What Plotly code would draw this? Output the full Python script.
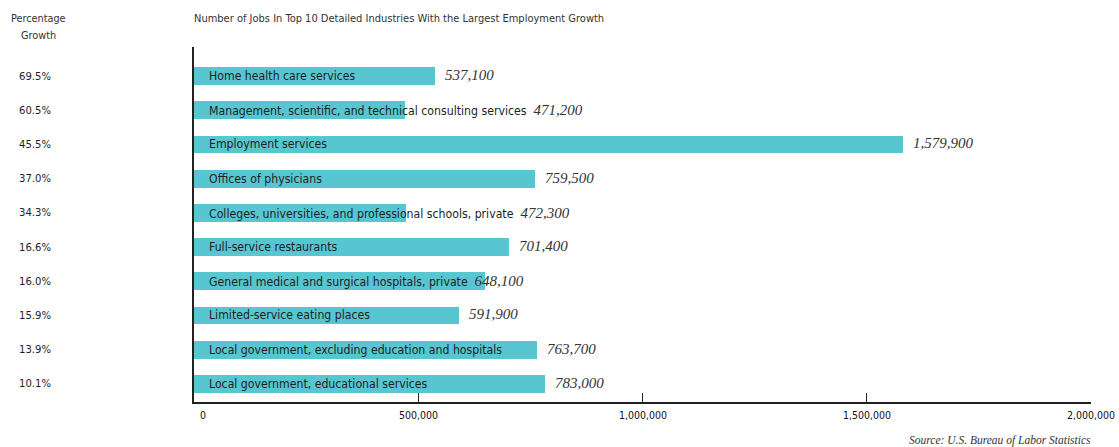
import plotly.graph_objects as go

categories = [
    "Home health care services",
    "Management, scientific, and technical consulting services",
    "Employment services",
    "Offices of physicians",
    "Colleges, universities, and professional schools, private",
    "Full-service restaurants",
    "General medical and surgical hospitals, private",
    "Limited-service eating places",
    "Local government, excluding education and hospitals",
    "Local government, educational services",
]
jobs = [537100, 471200, 1579900, 759500, 472300, 701400, 648100, 591900, 763700, 783000]
growth_labels = ["69.5%", "60.5%", "45.5%", "37.0%", "34.3%", "16.6%", "16.0%", "15.9%", "13.9%", "10.1%"]
tick_values = [0, 500000, 1000000, 1500000, 2000000]
tick_labels = ["0", "500,000", "1,000,000", "1,500,000", "2,000,000"]

W, H = 1119, 447
ML, MR, MT, MB = 194, 28, 47, 45
plot_w = W - ML - MR
x_max = 2000000
px_per_unit = plot_w / x_max

SANS = "DejaVu Sans Condensed, Liberation Sans Narrow, sans-serif"
SERIF = "Liberation Serif, Times New Roman, serif"
BAR = "#58C6D1"
TXT = "#1e1e1e"
CAT_SIZE = 12.2

ypos = list(range(len(categories)))

fig = go.Figure()
fig.add_trace(go.Bar(
    x=jobs, y=ypos, orientation="h",
    marker=dict(color=BAR, line=dict(width=0)),
    width=0.52, hoverinfo="skip",
))

annotations = []
char_px = 5.9
for i, (cat, v, g) in enumerate(zip(categories, jobs, growth_labels)):
    text_end_px = 14 + len(cat) * char_px
    bar_end_px = v * px_per_unit
    val_html = (f"<span style='font-family:{SERIF};font-size:15px;color:#333'>"
                f"<i>{v:,}</i></span>")
    if text_end_px > bar_end_px:
        annotations.append(dict(
            x=0, y=i, xref="x", yref="y", xanchor="left", yanchor="middle",
            xshift=13, showarrow=False, align="left",
            text=cat + "\u00a0\u00a0" + val_html,
            font=dict(family=SANS, size=CAT_SIZE, color=TXT),
        ))
    else:
        annotations.append(dict(
            x=0, y=i, xref="x", yref="y", xanchor="left", yanchor="middle",
            xshift=13, showarrow=False, text=cat,
            font=dict(family=SANS, size=CAT_SIZE, color=TXT),
        ))
        annotations.append(dict(
            x=v, y=i, xref="x", yref="y", xanchor="left", yanchor="middle",
            xshift=8, yshift=1, showarrow=False, text=f"<i>{v:,}</i>",
            font=dict(family=SERIF, size=15, color="#333"),
        ))
    annotations.append(dict(
        x=0, y=i, xref="paper", yref="y", xanchor="left", yanchor="middle",
        xshift=-(ML - 17), showarrow=False, text=g,
        font=dict(family=SANS, size=11.2, color=TXT),
    ))

# x-axis tick labels
for j, (tv, tl) in enumerate(zip(tick_values, tick_labels)):
    annotations.append(dict(
        x=tv, y=0, xref="x", yref="paper", xanchor="center", yanchor="middle",
        xshift=9 if j == 0 else 0, yshift=-13, showarrow=False, text=tl,
        font=dict(family=SANS, size=10.5, color="#111"),
    ))

for line, dy in (("Percentage", 18), ("Growth", 35)):
    annotations.append(dict(
        x=0, y=1, xref="paper", yref="paper", xanchor="center", yanchor="middle",
        xshift=-(ML - 38), yshift=MT - dy, showarrow=False, text=line,
        font=dict(family=SANS, size=10.8, color="#333"),
    ))
annotations.append(dict(
    x=0, y=1, xref="paper", yref="paper", xanchor="left", yanchor="middle",
    xshift=-2, yshift=MT - 18, showarrow=False,
    text="Number of Jobs In Top 10 Detailed Industries With the Largest Employment Growth",
    font=dict(family=SANS, size=11, color="#333"),
))
annotations.append(dict(
    x=1, y=0, xref="paper", yref="paper", xanchor="right", yanchor="middle",
    xshift=2, yshift=-(440 - (H - MB)), showarrow=False,
    text="<i>Source: U.S. Bureau of Labor Statistics</i>",
    font=dict(family=SERIF, size=11.5, color="#333"),
))

fig.update_layout(
    width=W, height=H,
    margin=dict(l=ML, r=MR, t=MT, b=MB, pad=0),
    paper_bgcolor="white", plot_bgcolor="white",
    showlegend=False, bargap=0,
    annotations=annotations,
    xaxis=dict(
        range=[0, x_max], showgrid=False, zeroline=False,
        showline=True, linecolor="#222", linewidth=1.5,
        ticks="inside", ticklen=9, tickcolor="#222", tickwidth=1.2,
        tickvals=tick_values, showticklabels=False,
        automargin=False, fixedrange=True,
    ),
    yaxis=dict(
        range=[len(categories) - 0.47, -0.85], showgrid=False, zeroline=False,
        showline=True, linecolor="#222", linewidth=1.5,
        showticklabels=False, ticks="", automargin=False, fixedrange=True,
    ),
)

fig.write_html("out.html")
